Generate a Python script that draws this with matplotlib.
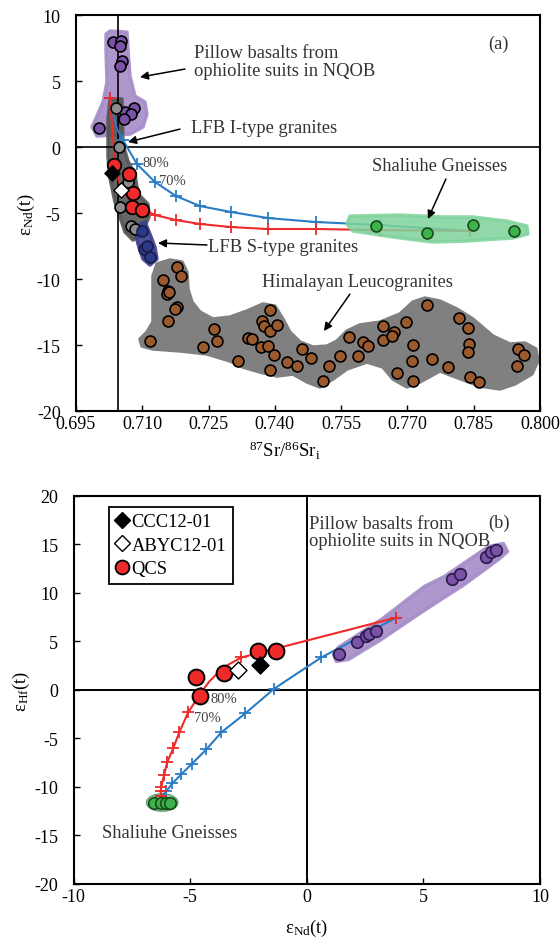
import numpy as np
import matplotlib
matplotlib.use("Agg")
import matplotlib.pyplot as plt
from matplotlib.patches import Polygon, Ellipse
from matplotlib.lines import Line2D

plt.rcParams['font.family'] = ['Liberation Serif', 'DejaVu Serif']
plt.rcParams['mathtext.default'] = 'regular'
plt.rcParams['axes.unicode_minus'] = False

# ---------------- Panel (a) data: 87Sr/86Sr(i) vs eNd(t) ----------------
pillow_a_x = [0.70337, 0.70518, 0.70495, 0.70541, 0.70495, 0.70812, 0.70609, 0.70744, 0.70586, 0.70020]
pillow_a_y = [7.95, 8.03, 7.65, 6.52, 6.14, 2.95, 2.65, 2.50, 2.12, 1.44]

lfbI_x = [0.70405, 0.70473, 0.70676, 0.70495, 0.70744, 0.70835]
lfbI_y = [2.95, 0.00, -2.65, -4.55, -5.98, -6.21]

lfbS_x = [0.70993, 0.71038, 0.71106, 0.71174]
lfbS_y = [-6.36, -7.73, -7.50, -8.33]

qcs_a_x = [0.70360, 0.70699, 0.70790, 0.70767, 0.70993]
qcs_a_y = [-1.36, -2.05, -3.48, -4.55, -4.77]
ccc_a = (0.70314, -1.97)
abyc_a = (0.70518, -3.26)

shal_a_x = [0.76287, 0.77441, 0.78482, 0.79409]
shal_a_y = [-5.98, -6.52, -5.91, -6.36]

him_x = [0.71785, 0.71876, 0.71468, 0.71581, 0.71559, 0.71604, 0.71785, 0.71740, 0.71581, 0.71174,
         0.72622, 0.72690, 0.72373, 0.73165, 0.73391, 0.73482, 0.73685, 0.73889, 0.73708, 0.73753,
         0.73889, 0.74047, 0.73844, 0.73980, 0.73889, 0.74274, 0.74500, 0.74613, 0.74817, 0.75088,
         0.75224, 0.75473, 0.75676, 0.75880, 0.75993, 0.76106, 0.76446, 0.76446, 0.76694, 0.76649,
         0.76966, 0.77124, 0.77102, 0.76762, 0.77124, 0.77554, 0.77441, 0.77916, 0.78165, 0.78369,
         0.78391, 0.78369, 0.78414, 0.78617, 0.79500, 0.79477, 0.79636]
him_y = [-9.09, -9.77, -10.08, -10.91, -11.14, -10.98, -12.12, -12.27, -13.18, -14.70,
         -13.79, -14.70, -15.15, -16.21, -14.47, -14.55, -15.15, -12.35, -13.18, -13.56,
         -13.94, -13.48, -15.08, -15.76, -16.89, -16.29, -16.59, -15.30, -15.98, -17.73,
         -16.59, -15.83, -14.39, -15.83, -14.77, -15.08, -13.56, -14.62, -14.02, -14.32,
         -13.26, -15.00, -16.21, -17.12, -17.73, -16.06, -11.97, -16.67, -12.95, -13.71,
         -14.92, -15.53, -17.42, -17.80, -15.30, -16.59, -15.76]

# mixing curves (a)
blue_a_x = [0.70269, 0.70337, 0.70428, 0.70563, 0.70880, 0.71287, 0.71762, 0.72305, 0.73007, 0.73844, 0.74930, 0.76378, 0.78414]
blue_a_y = [3.71, 2.50, 1.36, 0.53, -1.29, -2.65, -3.71, -4.47, -4.92, -5.38, -5.68, -5.91, -6.36]
blue_a_marks = [0, 3, 4, 5, 6, 7, 8, 9, 10, 11, 12]
red_a_x = [0.70269, 0.70314, 0.70360, 0.70405, 0.70541, 0.70880, 0.71287, 0.71762, 0.72305, 0.73007, 0.73844, 0.74930, 0.76378, 0.78414]
red_a_y = [3.71, 1.74, -0.15, -1.67, -3.41, -4.47, -5.15, -5.53, -5.83, -6.06, -6.21, -6.21, -6.29, -6.36]
red_a_marks = [0, 4, 5, 6, 7, 8, 9, 10, 11, 12, 13]

# field outlines (a)
pillow_a_fx = [0.70269, 0.70654, 0.70676, 0.70722, 0.70835, 0.71061, 0.71106, 0.71016, 0.70722, 0.70337, 0.69975, 0.69862, 0.69975, 0.70111, 0.70201, 0.70179, 0.70179]
pillow_a_fy = [8.79, 8.71, 7.42, 5.38, 3.86, 3.41, 2.50, 1.52, 0.98, 0.91, 0.83, 1.52, 2.35, 3.41, 4.92, 7.42, 8.56]
lfb_fx = [0.70269, 0.70541, 0.70563, 0.70676, 0.70835, 0.70903, 0.71129, 0.71152, 0.70971, 0.70790, 0.70609, 0.70382, 0.70269, 0.70224, 0.70224]
lfb_fy = [3.64, 3.64, 0.23, -1.06, -2.05, -3.56, -4.32, -5.30, -6.67, -7.05, -6.44, -4.17, -2.35, -0.76, 2.12]
lfbS_fx = [0.70880, 0.71061, 0.71174, 0.71287, 0.71333, 0.71174, 0.71016, 0.70903, 0.70835]
lfbS_fy = [-5.98, -5.68, -6.59, -7.58, -8.48, -8.94, -8.48, -7.35, -6.36]
shal_a_fx = [0.75699, 0.76830, 0.77803, 0.78482, 0.79251, 0.79703, 0.79726, 0.79387, 0.78346, 0.77577, 0.76672, 0.75767, 0.75631]
shal_a_fy = [-5.23, -5.15, -5.30, -5.30, -5.61, -5.98, -6.59, -6.89, -7.12, -7.20, -6.82, -6.36, -5.83]
him_fx = [0.71242, 0.71333, 0.71627, 0.71898, 0.72011, 0.72034, 0.72124, 0.72305, 0.72600, 0.72984, 0.73369,
          0.73731, 0.74002, 0.74183, 0.74341, 0.74568, 0.74862, 0.75179, 0.75405, 0.75631, 0.75925, 0.76378,
          0.76830, 0.77124, 0.77396, 0.77735, 0.78120, 0.78482, 0.78934, 0.79319, 0.79658, 0.79907, 0.79952,
          0.79816, 0.79432, 0.79093, 0.78640, 0.78029, 0.77735, 0.77283, 0.76989, 0.76672, 0.76446, 0.76084,
          0.75631, 0.75314, 0.75020, 0.74726, 0.74409, 0.74047, 0.73663, 0.73278, 0.72984, 0.72464, 0.71853,
          0.71242, 0.70993, 0.70948, 0.71106, 0.71242, 0.71242]
him_fy = [-9.77, -8.86, -8.56, -8.71, -9.47, -10.76, -11.74, -12.50, -13.03, -12.88, -12.42,
          -11.89, -12.05, -13.03, -14.02, -14.77, -15.15, -15.08, -14.70, -13.94, -13.48, -13.26,
          -12.65, -11.74, -11.44, -11.67, -12.27, -13.03, -14.32, -14.92, -14.85, -15.30, -16.21,
          -17.20, -17.95, -18.33, -18.11, -17.35, -16.97, -17.80, -18.18, -17.58, -16.67, -16.29,
          -16.82, -17.58, -18.18, -17.80, -17.20, -17.35, -17.05, -16.67, -16.21, -15.68, -15.45,
          -15.30, -15.08, -14.55, -14.02, -13.26, -11.52]

xticks_a = [0.695, 0.710, 0.725, 0.740, 0.755, 0.770, 0.785, 0.800]
yticks_a = [-20, -15, -10, -5, 0, 5, 10]

# ---------------- Panel (b) data: eNd(t) vs eHf(t) ----------------
pillow_b_x = [1.39, 2.17, 2.55, 2.68, 2.98, 6.24, 6.55, 7.70, 7.92, 8.13]
pillow_b_y = [3.76, 4.90, 5.52, 5.72, 6.13, 11.39, 11.91, 13.76, 14.18, 14.38]
qcs_b_x = [-4.74, -4.57, -3.54, -2.08, -1.31]
qcs_b_y = [1.29, -0.57, 1.70, 3.97, 3.97]
ccc_b = (-2.00, 2.53)
abyc_b = (-2.94, 2.11)
shal_b_x = [-6.55, -6.24, -6.03, -5.86]
shal_b_y = [-11.60, -11.60, -11.60, -11.60]

red_b_x = [3.84, -2.81, -3.58, -4.18, -4.53, -5.09, -5.47, -5.73, -5.99, -6.12, -6.24, -6.27, -6.24]
red_b_y = [7.47, 3.35, 2.32, 0.88, -0.26, -2.32, -4.38, -6.03, -7.47, -8.81, -9.95, -10.46, -10.98]
red_b_marks = [0, 1, 4, 5, 6, 7, 8, 9, 10, 11, 12]
blue_b_x = [3.84, 0.62, -1.39, -2.64, -3.67, -4.31, -4.91, -5.39, -5.77, -6.03, -6.24]
blue_b_y = [7.47, 3.35, 0.15, -2.42, -4.38, -6.13, -7.58, -8.71, -9.64, -10.46, -10.98]

pillow_b_fx = [1.14, 1.35, 3.20, 5.04, 5.90, 7.79, 8.43, 8.61, 8.22, 6.76, 4.91, 3.20, 1.78, 1.27]
pillow_b_fy = [3.66, 4.38, 7.27, 10.67, 11.70, 14.79, 15.10, 14.28, 13.45, 10.88, 8.00, 5.21, 3.14, 2.94]

xticks_b = [-10, -5, 0, 5, 10]
yticks_b = [-20, -15, -10, -5, 0, 5, 10, 15, 20]

# ---------------- colours ----------------
C_RED = '#ee2a2a'
C_BLUE = '#2a7cc4'
C_PURPLE_F = '#a58cc8'
C_PURPLE_P = '#7a52a8'
C_GREEN_F = '#7fd39b'
C_GREEN_P = '#3cb44b'
C_HIM_F = '#808080'
C_HIM_P = '#9a5a2e'
C_LFB_F = '#555555'
C_LFB_P = '#8c8c8c'
C_S_F = '#3a3f8c'
C_S_P = '#2c3a8a'
TXT = '#333333'

fig = plt.figure(figsize=(5.6, 9.45), dpi=100)
axA = fig.add_axes([0.1357, 0.564, 0.8286, 0.419])
axB = fig.add_axes([0.1314, 0.0635, 0.8329, 0.4106])


def field(ax, xs, ys, color, alpha, z):
    ax.add_patch(Polygon(np.column_stack([xs, ys]), closed=True, facecolor=color,
                         edgecolor=color, lw=2.5, joinstyle='round', alpha=alpha, zorder=z))


def style(ax, xlim, ylim, xt, yt, xfmt):
    ax.set_xlim(*xlim)
    ax.set_ylim(*ylim)
    ax.set_xticks(xt)
    ax.set_xticklabels([xfmt(v) for v in xt])
    ax.set_yticks(yt)
    ax.tick_params(direction='in', length=4, width=1, labelsize=13, colors='black')
    ax.tick_params(axis='y', pad=11)
    ax.tick_params(axis='x', pad=3)
    for s in ax.spines.values():
        s.set_linewidth(1.5)
        s.set_color('black')


# ================= Panel (a) =================
ax = axA
style(ax, (0.695, 0.800), (-20, 10), xticks_a, yticks_a, lambda v: f'{v:.3f}')
ax.axhline(0, color='black', lw=1.2, zorder=1.5)
ax.axvline(0.7045, color='black', lw=1.2, zorder=1.5)

field(ax, him_fx, him_fy, C_HIM_F, 1.0, 1)
field(ax, pillow_a_fx, pillow_a_fy, C_PURPLE_F, 0.9, 1)
field(ax, lfb_fx, lfb_fy, C_LFB_F, 0.9, 1.2)
field(ax, lfbS_fx, lfbS_fy, C_S_F, 0.9, 1.3)

ax.plot(blue_a_x, blue_a_y, color=C_BLUE, lw=1.5, marker='+', ms=8, mew=1.3,
        markevery=blue_a_marks, zorder=2)
ax.plot(red_a_x, red_a_y, color=C_RED, lw=1.5, marker='+', ms=8, mew=1.3,
        markevery=red_a_marks, zorder=2)
field(ax, shal_a_fx, shal_a_fy, C_GREEN_F, 0.85, 2.5)

ms_a = 62
ax.scatter(him_x, him_y, s=ms_a, c=C_HIM_P, edgecolors='black', linewidths=1.2, zorder=3)
ax.scatter(pillow_a_x, pillow_a_y, s=ms_a, c=C_PURPLE_P, edgecolors='black', linewidths=1.2, zorder=3)
ax.scatter(lfbI_x, lfbI_y, s=ms_a, c=C_LFB_P, edgecolors='black', linewidths=1.2, zorder=3)
ax.scatter(lfbS_x, lfbS_y, s=ms_a, c=C_S_P, edgecolors='#1a1a4a', linewidths=1.2, zorder=3)
ax.scatter(shal_a_x, shal_a_y, s=ms_a, c=C_GREEN_P, edgecolors='#1a4a1a', linewidths=1.2, zorder=3)
ax.scatter(qcs_a_x, qcs_a_y, s=95, c=C_RED, edgecolors='black', linewidths=1.3, zorder=4)
ax.scatter([ccc_a[0]], [ccc_a[1]], s=60, marker='D', c='black', edgecolors='black', zorder=5)
ax.scatter([abyc_a[0]], [abyc_a[1]], s=60, marker='D', c='white', edgecolors='black', linewidths=1, zorder=5)

ap = dict(arrowstyle='-|>', color='black', lw=1.1, mutation_scale=12, shrinkA=0, shrinkB=0)
tfs = 13.3
ax.text(0.7218, 6.5, 'Pillow basalts from\nophiolite suits in NQOB', fontsize=tfs, color=TXT,
        ha='left', va='center', linespacing=1.05)
ax.annotate('', xy=(0.70948, 5.30), xytext=(0.71966, 5.91), arrowprops=ap)
ax.text(0.7210, 1.45, 'LFB I-type granites', fontsize=tfs, color=TXT, ha='left', va='center')
ax.annotate('', xy=(0.70676, 0.38), xytext=(0.71853, 1.36), arrowprops=ap)
ax.text(0.7249, -7.55, 'LFB S-type granites', fontsize=tfs, color=TXT, ha='left', va='center')
ax.annotate('', xy=(0.71355, -7.27), xytext=(0.72464, -7.42), arrowprops=ap)
ax.text(0.7586, -10.15, 'Himalayan Leucogranites', fontsize=tfs, color=TXT, ha='center', va='center')
ax.annotate('', xy=(0.75111, -13.94), xytext=(0.75699, -11.14), arrowprops=ap)
ax.text(0.7772, -1.4, 'Shaliuhe Gneisses', fontsize=tfs, color=TXT, ha='center', va='center')
ax.annotate('', xy=(0.77464, -5.45), xytext=(0.77871, -2.42), arrowprops=ap)
ax.text(0.7905, 7.85, '(a)', fontsize=tfs, color=TXT, ha='center', va='center')
ax.text(0.7100, -1.15, '80%', fontsize=10.5, color='#444444', ha='left', va='center')
ax.text(0.7138, -2.55, '70%', fontsize=10.5, color='#444444', ha='left', va='center')

ax.set_ylabel('ε$_{Nd}$(t)', fontsize=13.5)
ax.yaxis.set_label_coords(-0.085, 0.5)
ax.set_xlabel('$^{87}$Sr/$^{86}$Sr$_{i}$', fontsize=13.5)
ax.xaxis.set_label_coords(0.45, -0.07)

# ================= Panel (b) =================
ax = axB
style(ax, (-10, 10), (-20, 20), xticks_b, yticks_b, lambda v: f'{v:d}')
ax.axhline(0, color='black', lw=1.4, zorder=1.5)
ax.axvline(0, color='black', lw=1.4, zorder=1.5)

field(ax, pillow_b_fx, pillow_b_fy, C_PURPLE_F, 0.9, 1)
ax.add_patch(Ellipse((-6.2, -11.6), 1.35, 1.8, facecolor=C_GREEN_F, edgecolor='#5a9a6a',
                     lw=1.0, alpha=0.9, zorder=1))

ax.plot(blue_b_x, blue_b_y, color=C_BLUE, lw=1.5, marker='+', ms=8, mew=1.3, zorder=2)
ax.plot(red_b_x, red_b_y, color=C_RED, lw=1.5, marker='+', ms=8, mew=1.3,
        markevery=red_b_marks, zorder=2)

ax.scatter(pillow_b_x, pillow_b_y, s=70, c=C_PURPLE_P, edgecolors='#2a1a4a', linewidths=1.2, zorder=3)
ax.scatter(shal_b_x, shal_b_y, s=70, c=C_GREEN_P, edgecolors='#1a4a1a', linewidths=1.2, zorder=3)
ax.scatter(qcs_b_x, qcs_b_y, s=130, c=C_RED, edgecolors='black', linewidths=1.4, zorder=4)
ax.scatter([ccc_b[0]], [ccc_b[1]], s=75, marker='D', c='black', edgecolors='black', zorder=5)
ax.scatter([abyc_b[0]], [abyc_b[1]], s=75, marker='D', c='white', edgecolors='black', linewidths=1, zorder=5)

ax.text(0.1, 16.3, 'Pillow basalts from\nophiolite suits in NQOB', fontsize=tfs, color=TXT,
        ha='left', va='center', linespacing=1.05)
ax.text(8.25, 17.3, '(b)', fontsize=tfs, color=TXT, ha='center', va='center')
ax.text(-8.8, -14.7, 'Shaliuhe Gneisses', fontsize=tfs, color=TXT, ha='left', va='center')
ax.text(-4.15, -0.85, '80%', fontsize=10.5, color='#444444', ha='left', va='center')
ax.text(-4.85, -2.85, '70%', fontsize=10.5, color='#444444', ha='left', va='center')

handles = [Line2D([], [], ls='none', marker='D', ms=8, mfc='black', mec='black'),
           Line2D([], [], ls='none', marker='D', ms=8, mfc='white', mec='black', mew=1),
           Line2D([], [], ls='none', marker='o', ms=10, mfc=C_RED, mec='black', mew=1.3)]
leg = ax.legend(handles, ['CCC12-01', 'ABYC12-01', 'QCS'], loc='upper left',
                bbox_to_anchor=(0.077, 0.972), borderaxespad=0, fontsize=13.3,
                frameon=True, fancybox=False, edgecolor='black', framealpha=1,
                handlelength=0.7, handletextpad=0.15, borderpad=0.35, labelspacing=0.35)
leg.get_frame().set_linewidth(1.3)

ax.set_ylabel('ε$_{Hf}$(t)', fontsize=13.5)
ax.yaxis.set_label_coords(-0.09, 0.5)
ax.set_xlabel('ε$_{Nd}$(t)', fontsize=13.5)
ax.xaxis.set_label_coords(0.5, -0.085)

fig.savefig('out.png', dpi=100)
